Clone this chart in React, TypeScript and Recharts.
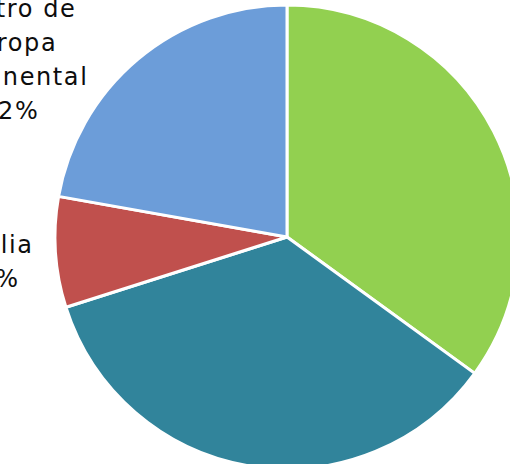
import React from "react";
import { PieChart, Pie, Cell } from "recharts";

const categories = ["Nuevo mercado", "Otros", "Italia", "Centro de Europa Continental"];
const shares = [35.0, 35.1, 7.7, 22.2];
const colors = ["#92D050", "#31849B", "#C0504D", "#6C9DD9"];
const labelLines: string[][] = [[], [], ["Italia", "8%"], ["Centro de", "Europa", "Continental", "22%"]];

const data = categories.map((name, i) => ({ name, value: shares[i] }));

const RAD = Math.PI / 180;

function renderLabel(props: any) {
  const { cx, cy, midAngle, outerRadius, index } = props;
  const lines = labelLines[index];
  if (!lines || lines.length === 0) return null;
  const lh = 34;
  const s = Math.sin(midAngle * RAD);
  const x = cx - outerRadius - 41 - 16 * (1 - Math.abs(s));
  const ymid = cy - outerRadius * s + 6 + 12 * (1 - Math.abs(s));
  const y0 = ymid - ((lines.length - 1) * lh) / 2;
  return (
    <text
      x={x}
      y={y0}
      textAnchor="middle"
      fill="#0d0d0d"
      fontFamily="DejaVu Sans"
      fontSize={24}
      letterSpacing={1.6}
    >
      {lines.map((l, i) => (
        <tspan key={i} x={x} y={y0 + i * lh}>
          {l}
        </tspan>
      ))}
    </text>
  );
}

export default function App() {
  return (
    <div style={{ position: "fixed", left: 0, top: 0, width: 510, height: 464, background: "#fff" }}>
      <PieChart width={510} height={464} margin={{ top: 0, right: 0, bottom: 0, left: 0 }}>
        <Pie
          data={data}
          dataKey="value"
          nameKey="name"
          cx={287}
          cy={237}
          outerRadius={232}
          startAngle={90}
          endAngle={-270}
          stroke="#fff"
          strokeWidth={3}
          label={renderLabel}
          labelLine={false}
          isAnimationActive={false}
        >
          {data.map((d, i) => (
            <Cell key={d.name} fill={colors[i]} />
          ))}
        </Pie>
      </PieChart>
    </div>
  );
}
